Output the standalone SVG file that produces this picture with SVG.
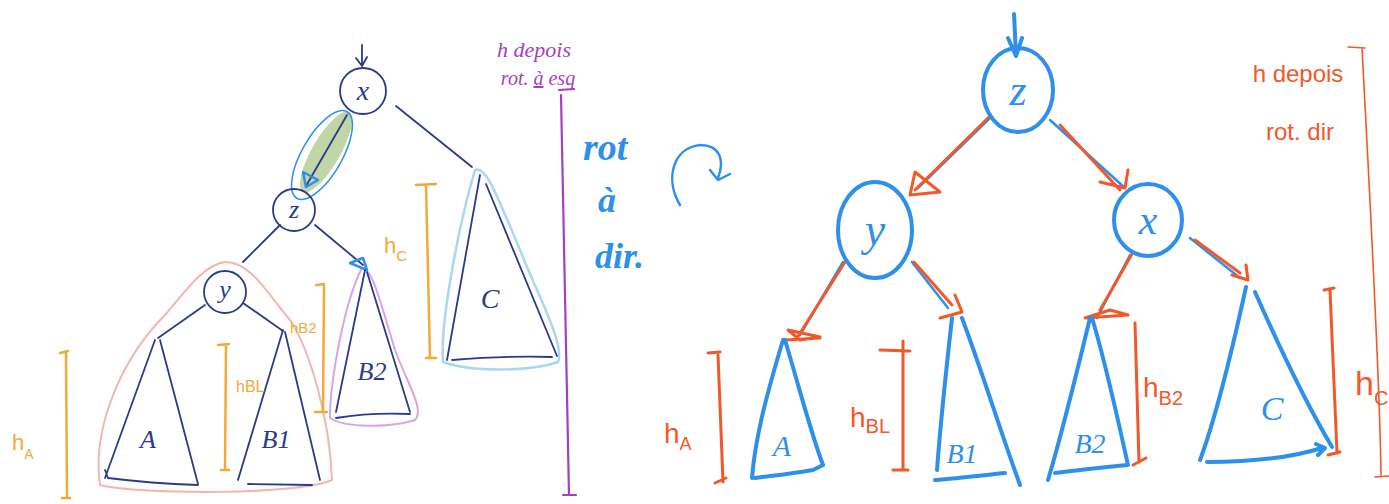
<svg xmlns="http://www.w3.org/2000/svg" width="1389" height="504" viewBox="0 0 1389 504">
<defs>
<style>
.nv{fill:none;stroke:#2b3a8c;stroke-width:1.8;stroke-linecap:round;stroke-linejoin:round}
.bl{fill:none;stroke:#2e90ea;stroke-width:4;stroke-linecap:round;stroke-linejoin:round}
.bl2{fill:none;stroke:#2e90ea;stroke-width:2.5;stroke-linecap:round;stroke-linejoin:round}
.or{fill:none;stroke:#f2a93a;stroke-width:2.5;stroke-linecap:round}
.rd{fill:none;stroke:#f2582a;stroke-width:3;stroke-linecap:round;stroke-linejoin:round}
.rdt{fill:none;stroke:#f2582a;stroke-width:1.6;stroke-linecap:round}
.pu{fill:none;stroke:#a43fbf;stroke-width:2.2;stroke-linecap:round}
.tl{font-family:"Liberation Serif",serif;font-style:italic;fill:#2b3a8c}
.tr{font-family:"Liberation Serif",serif;font-style:italic;fill:#2e90ea}
.to{font-family:"Liberation Sans",sans-serif;fill:#f2a93a}
.tro{font-family:"Liberation Sans",sans-serif;fill:#f2582a}
.tp{font-family:"Liberation Serif",serif;font-style:italic;fill:#a43fbf}
</style>
</defs>
<rect width="1389" height="504" fill="#ffffff"/>

<!-- LEFT: highlights -->
<g id="left-highlights">
<ellipse cx="326" cy="152" rx="14" ry="46" transform="rotate(30 326 152)" fill="#b5cf98" opacity="0.85"/>
<ellipse cx="322" cy="155" rx="20" ry="50" transform="rotate(30 322 155)" fill="none" stroke="#2e90ea" stroke-width="1.5"/>
<path d="M100,485 C92,430 120,360 165,315 C190,285 205,265 225,262 C250,262 265,290 290,320 C310,350 330,420 332,480 C300,495 140,495 100,485 Z" fill="none" stroke="#f2b6ae" stroke-width="2"/>
<path d="M330,418 C330,380 345,300 362,268 C372,268 380,300 395,350 C408,385 425,410 415,420 C390,428 345,428 330,418 Z" fill="none" stroke="#d7a8e0" stroke-width="2"/>
<path d="M443,362 C440,320 460,220 475,170 C485,165 495,190 520,250 C540,300 565,345 558,362 C530,372 470,372 443,362 Z" fill="none" stroke="#a9d8ee" stroke-width="2.5"/>
</g>

<!-- LEFT connectors -->
<g id="left-connectors">
<path class="nv" d="M362,45 L362,65 M356,58 L362,66 L367,57"/>
<path class="nv" d="M347,115 L306,186"/>
<path class="bl2" d="M303,172 L306,187 L318,180 Z"/>
<path class="nv" d="M396,106 L472,167"/>
<path class="nv" d="M280,225 L243,262"/>
<path class="nv" d="M315,225 L363,265"/>
<path class="bl2" d="M350,263 L367,270 L363,258 Z"/>
<path class="nv" d="M205,305 L158,338"/>
<path class="nv" d="M243,303 L283,331"/>
</g>

<!-- LEFT nodes -->
<g id="L-x"><circle class="nv" cx="363" cy="91" r="23"/><text class="tl" x="363" y="100" font-size="28" text-anchor="middle">x</text></g>
<g id="L-z"><circle class="nv" cx="294" cy="210" r="21"/><text class="tl" x="294" y="218" font-size="26" text-anchor="middle">z</text></g>
<g id="L-y"><circle class="nv" cx="225" cy="292" r="21"/><text class="tl" x="225" y="298" font-size="26" text-anchor="middle">y</text></g>
<g id="L-A"><path class="nv" d="M155,340 L105,478 M160,340 L198,484 M105,470 L108,478 C140,482 170,484 198,485"/><text class="tl" x="148" y="448" font-size="26" text-anchor="middle">A</text></g>
<g id="L-B1"><path class="nv" d="M283,330 L238,480 M285,332 L320,480 M248,484 L312,485"/><text class="tl" x="276" y="448" font-size="26" text-anchor="middle">B1</text></g>
<g id="L-B2"><path class="nv" d="M365,270 L336,412 M367,272 L410,412 M336,418 C360,414 390,413 410,414"/><text class="tl" x="372" y="380" font-size="26" text-anchor="middle">B2</text></g>
<g id="L-C"><path class="nv" d="M480,175 L447,360 M486,184 L557,356 M452,360 C490,357 520,356 552,357"/><text class="tl" x="490" y="308" font-size="28" text-anchor="middle">C</text></g>

<!-- LEFT heights -->
<g id="left-heights">
<path class="or" d="M60,353 L68,351 M66,352 L67,498 M62,498 L70,498"/>
<text class="to" x="12" y="450" font-size="22">h<tspan dy="9" font-size="14">A</tspan></text>
<path class="or" d="M218,345 L229,344 M226,345 L225,470 M221,470 L229,470"/>
<text class="to" x="236" y="392" font-size="16">hBL</text>
<path class="or" d="M316,285 L324,284 M324,285 L323,412 M315,412 L327,412"/>
<text class="to" x="290" y="333" font-size="15">hB2</text>
<path class="or" d="M416,185 L436,184 M426,186 L430,358 M426,358 L436,358"/>
<text class="to" x="384" y="253" font-size="22">h<tspan dy="8" font-size="15">C</tspan></text>
<text class="tp" x="534" y="57" font-size="22" text-anchor="middle">h depois</text>
<text class="tp" x="538" y="85" font-size="20" text-anchor="middle">rot. <tspan text-decoration="underline">à</tspan> esq</text>
<path class="pu" d="M559,90 L574,89 M561,95 L569,495 M563,495 L576,495"/>
</g>

<!-- middle label -->
<g id="rot-dir">
<text class="tr" x="583" y="160" font-size="38" font-weight="bold">rot</text>
<text class="tr" x="598" y="212" font-size="36" font-weight="bold">à</text>
<text class="tr" x="595" y="268" font-size="36" font-weight="bold">dir.</text>
<path class="bl2" d="M680,205 C665,180 672,148 700,145 C720,145 725,160 718,178"/>
<path class="bl2" d="M710,170 L718,180 L730,174"/>
</g>

<!-- RIGHT connectors -->
<g id="right-connectors">
<path class="bl" d="M1014,14 L1016,55 M1008,38 L1016,56 L1022,38"/>
<path class="bl2" d="M990,118 L918,188"/>
<path class="rd" d="M990,116 L915,190 M915,172 L910,195 L940,192 Z"/>
<path class="bl2" d="M1050,120 L1125,188"/>
<path class="rd" d="M1060,125 L1120,190 M1100,182 L1125,188 L1128,170"/>
<path class="bl2" d="M843,262 L800,335"/>
<path class="rd" d="M845,262 L797,338 M788,330 L800,340 L820,337 Z M785,340 L820,338"/>
<path class="bl2" d="M912,262 L948,308"/>
<path class="rd" d="M914,262 L952,305 M940,318 L962,312 L955,295"/>
<path class="bl2" d="M1130,255 L1097,318"/>
<path class="rd" d="M1132,254 L1100,310 M1085,318 L1110,310 L1128,315 Z"/>
<path class="bl2" d="M1190,238 L1240,278"/>
<path class="rd" d="M1195,240 L1240,273 M1232,275 L1248,280 L1246,265"/>
</g>

<!-- RIGHT nodes -->
<g id="R-z"><ellipse class="bl" cx="1018" cy="90" rx="35" ry="42"/><text class="tr" x="1018" y="105" font-size="44" text-anchor="middle">z</text></g>
<g id="R-y"><ellipse class="bl" cx="875" cy="230" rx="37" ry="48"/><text class="tr" x="875" y="245" font-size="46" text-anchor="middle">y</text></g>
<g id="R-x"><ellipse class="bl" cx="1148" cy="220" rx="34" ry="36"/><text class="tr" x="1148" y="234" font-size="42" text-anchor="middle">x</text></g>
<g id="R-A"><path class="bl" d="M783,340 C765,400 755,440 752,478 M785,340 C800,390 810,430 823,465 L813,470 C790,474 770,476 755,478"/>
<text class="tr" x="782" y="456" font-size="30" text-anchor="middle">A</text></g>
<g id="R-B1"><path class="bl" d="M952,318 C945,380 940,430 937,470 M962,318 C985,380 1000,430 1020,485 M935,480 C960,478 985,475 1005,473"/>
<text class="tr" x="962" y="463" font-size="28" text-anchor="middle">B1</text></g>
<g id="R-B2"><path class="bl" d="M1090,318 C1075,380 1060,440 1048,480 M1092,318 C1105,360 1118,420 1128,465 M1055,473 C1080,470 1105,467 1128,465"/>
<text class="tr" x="1090" y="453" font-size="28" text-anchor="middle">B2</text></g>
<g id="R-C"><path class="bl" d="M1246,287 C1230,360 1215,420 1200,460 M1255,292 C1285,360 1310,410 1332,447 M1207,462 C1250,462 1290,458 1322,448 M1316,444 L1325,448 L1318,455"/>
<text class="tr" x="1272" y="420" font-size="34" text-anchor="middle">C</text></g>

<!-- RIGHT heights -->
<g id="right-heights">
<path class="rd" d="M708,353 L720,352 M718,355 L723,482 M715,483 L726,478"/>
<text class="tro" x="664" y="443" font-size="28">h<tspan dy="7" font-size="18">A</tspan></text>
<path class="rd" d="M880,350 L910,351 M903,341 L903,470 M893,470 L908,470"/>
<text class="tro" x="850" y="427" font-size="28">h<tspan dy="6" font-size="20">BL</tspan></text>
<path class="rd" d="M1135,323 L1139,462 M1133,465 L1146,458"/>
<text class="tro" x="1143" y="397" font-size="28">h<tspan dy="8" font-size="20">B2</tspan></text>
<path class="rd" d="M1324,290 L1334,288 M1330,290 L1337,453 M1328,455 L1340,452"/>
<text class="tro" x="1355" y="395" font-size="34">h<tspan dy="10" font-size="20">C</tspan></text>
<text class="tro" x="1298" y="82" font-size="24" text-anchor="middle">h depois</text>
<text class="tro" x="1300" y="140" font-size="24" text-anchor="middle">rot. dir</text>
<path class="rdt" d="M1348,47 L1365,48 M1362,48 C1370,200 1380,380 1381,475 M1375,477 L1389,476"/>
</g>
</svg>
